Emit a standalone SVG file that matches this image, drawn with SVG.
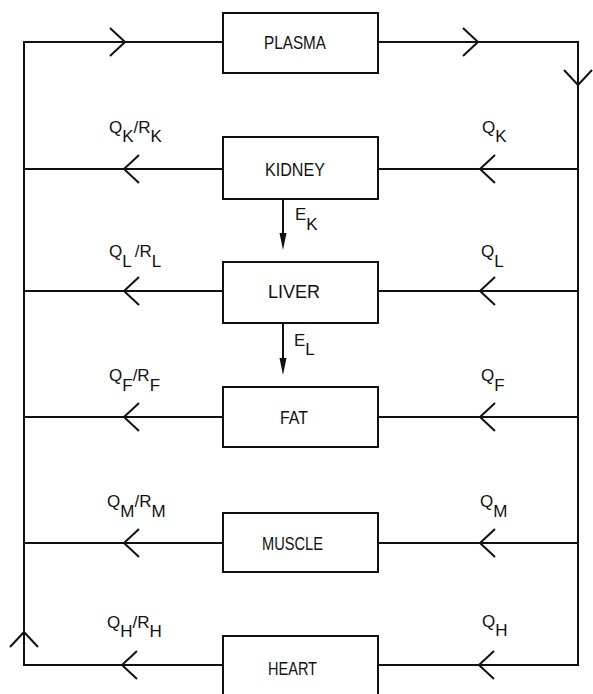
<svg xmlns="http://www.w3.org/2000/svg" xmlns:xlink="http://www.w3.org/1999/xlink" width="593" height="694" viewBox="0 0 593 694">
<style>
.ln{fill:none;stroke:#111;stroke-width:2;stroke-linejoin:miter}
.box{fill:#fff;stroke:#111;stroke-width:2}
.nt{font-family:"Liberation Sans","DejaVu Sans",sans-serif;font-size:19px;fill:#111}
.lb{font-family:"Liberation Sans","DejaVu Sans",sans-serif;font-size:17px;fill:#111}
.ah{fill:#111;stroke:none}
</style>
<defs>
<path id="chevL" class="ln" d="M15,-14 L0,0 L15,14"/>
<path id="chevR" class="ln" d="M-15,-14 L0,0 L-15,14"/>
<path id="chevD" class="ln" d="M-14,-15 L0,0 L14,-15"/>
<path id="chevU" class="ln" d="M-14,15 L0,0 L14,15"/>
<path id="head" class="ah" d="M-3.5,-17 L3.5,-17 L0,0 Z"/>
</defs>
<rect width="593" height="694" fill="#fff"/>
<g id="connectors">
<path class="ln" d="M223,42 H24 V665 H223"/>
<path class="ln" d="M378,42 H578 V665 H378"/>
<path class="ln" d="M24,169 H223 M378,169 H578"/>
<path class="ln" d="M24,291 H223 M378,291 H578"/>
<path class="ln" d="M24,417 H223 M378,417 H578"/>
<path class="ln" d="M24,543 H223 M378,543 H578"/>
<use xlink:href="#chevR" x="125" y="42"/>
<use xlink:href="#chevR" x="478" y="42"/>
<use xlink:href="#chevD" x="578" y="85"/>
<use xlink:href="#chevU" x="24" y="632"/>
<use xlink:href="#chevL" x="124" y="169"/>
<use xlink:href="#chevL" x="480" y="169"/>
<use xlink:href="#chevL" x="124" y="291"/>
<use xlink:href="#chevL" x="480" y="291"/>
<use xlink:href="#chevL" x="124" y="417"/>
<use xlink:href="#chevL" x="480" y="417"/>
<use xlink:href="#chevL" x="124" y="543"/>
<use xlink:href="#chevL" x="480" y="543"/>
<use xlink:href="#chevL" x="122" y="665"/>
<use xlink:href="#chevL" x="479" y="665"/>
<path class="ln" d="M283,199 V240"/>
<use xlink:href="#head" x="283" y="250"/>
<path class="ln" d="M283,323 V365"/>
<use xlink:href="#head" x="283" y="375"/>
<text class="lb" x="295" y="220">E<tspan dy="10">K</tspan></text>
<text class="lb" x="294" y="346">E<tspan dy="9">L</tspan></text>
<text class="lb" x="109" y="133">Q<tspan dy="9">K</tspan><tspan dy="-9">/R</tspan><tspan dy="9">K</tspan></text>
<text class="lb" x="482" y="133">Q<tspan dy="9">K</tspan></text>
<text class="lb" x="109" y="257">Q<tspan dy="10">L</tspan><tspan dy="-10" dx="3">/R</tspan><tspan dy="10">L</tspan></text>
<text class="lb" x="481" y="257">Q<tspan dy="10">L</tspan></text>
<text class="lb" x="109" y="381">Q<tspan dy="10">F</tspan><tspan dy="-10">/R</tspan><tspan dy="10">F</tspan></text>
<text class="lb" x="481" y="381">Q<tspan dy="10">F</tspan></text>
<text class="lb" x="107" y="507">Q<tspan dy="10">M</tspan><tspan dy="-10">/R</tspan><tspan dy="10">M</tspan></text>
<text class="lb" x="480" y="507">Q<tspan dy="10">M</tspan></text>
<text class="lb" x="107" y="628">Q<tspan dy="9">H</tspan><tspan dy="-9">/R</tspan><tspan dy="9">H</tspan></text>
<text class="lb" x="482" y="627">Q<tspan dy="9">H</tspan></text>
</g>
<g id="plasma">
<rect class="box" x="223" y="13" width="155" height="60"/>
<text class="nt" x="264" y="49" textLength="62" lengthAdjust="spacingAndGlyphs">PLASMA</text>
</g>
<g id="kidney">
<rect class="box" x="223" y="137" width="155" height="62"/>
<text class="nt" x="265" y="176" textLength="60" lengthAdjust="spacingAndGlyphs">KIDNEY</text>
</g>
<g id="liver">
<rect class="box" x="223" y="262" width="155" height="61"/>
<text class="nt" x="268" y="298" textLength="52" lengthAdjust="spacingAndGlyphs">LIVER</text>
</g>
<g id="fat">
<rect class="box" x="223" y="387" width="155" height="60"/>
<text class="nt" x="280" y="424" textLength="28" lengthAdjust="spacingAndGlyphs">FAT</text>
</g>
<g id="muscle">
<rect class="box" x="223" y="513" width="155" height="59"/>
<text class="nt" x="262" y="550" textLength="61" lengthAdjust="spacingAndGlyphs">MUSCLE</text>
</g>
<g id="heart">
<path class="box" d="M223,700 V636 H378 V700"/>
<text class="nt" x="268" y="675" textLength="49" lengthAdjust="spacingAndGlyphs">HEART</text>
</g>
</svg>
